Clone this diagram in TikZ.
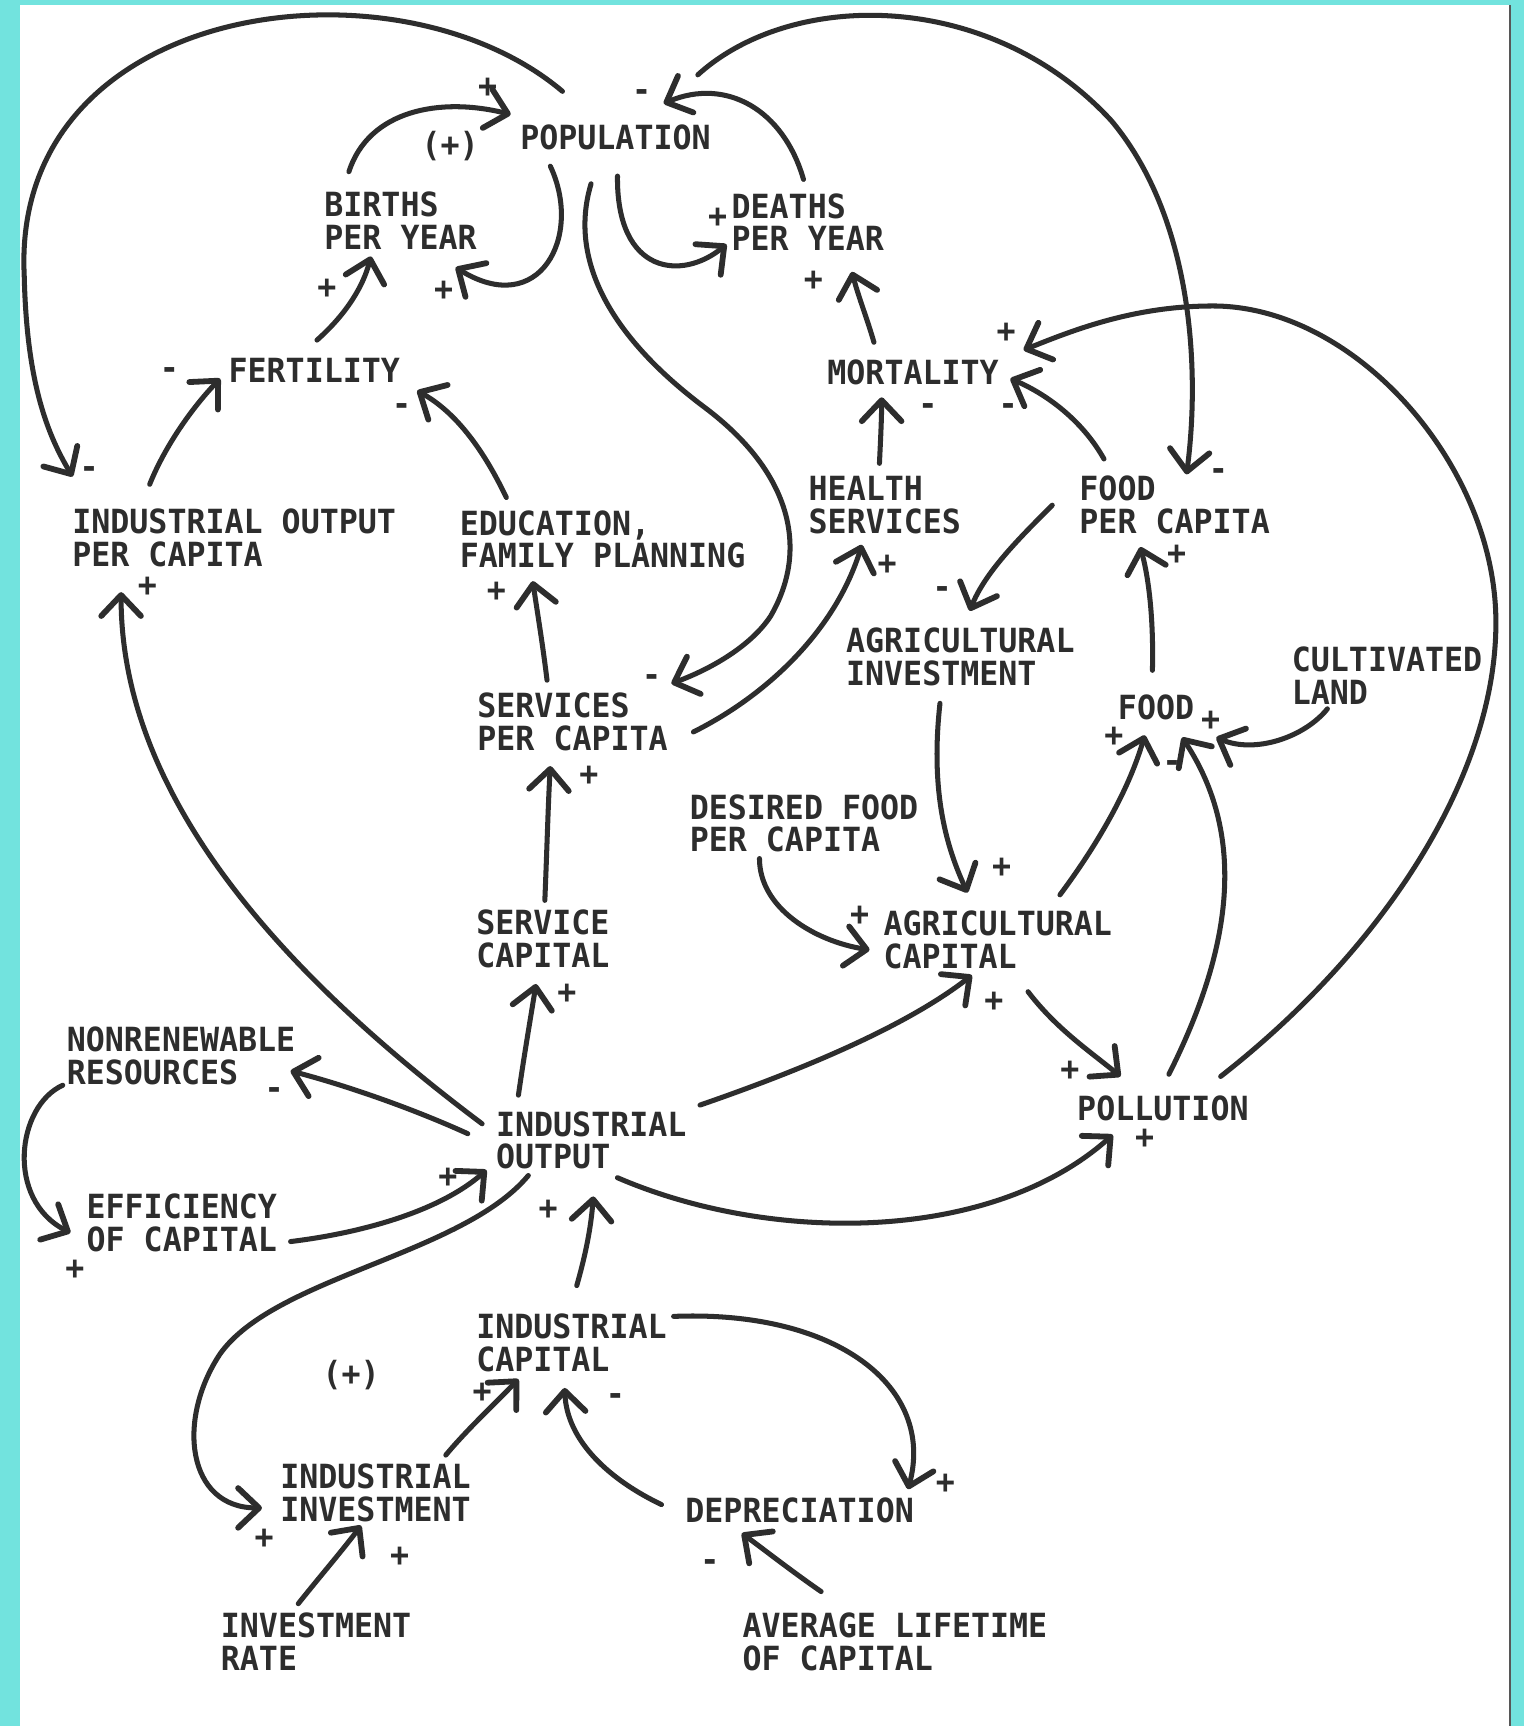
\documentclass[tikz,border=0pt]{standalone}
\usepackage{fontspec}
\newfontfamily\lblfont{DejaVu Sans Mono}[FakeStretch=0.95]
\usetikzlibrary{arrows.meta}
\definecolor{framecol}{RGB}{114,227,222}
\definecolor{ink}{RGB}{45,45,45}
\begin{document}
\begin{tikzpicture}[x=0.01cm,y=-0.01cm,
  lbl/.style={font=\lblfont\bfseries\fontsize{8.6}{8.5}\selectfont, text=ink, inner sep=0pt, anchor=north west, align=left},
  sgn/.style={font=\lblfont\bfseries\fontsize{8.6}{8.5}\selectfont, text=ink, inner sep=0pt},
  msgn/.style={sgn, yshift=-1pt},
  arr/.style={draw=ink, line width=1.3pt, line cap=round,
    -{Straight Barb[length=1.9mm,width=3.6mm,line width=1.5pt,round]}}]
% frame
\fill[framecol] (0,0) rectangle (1385,1568);
\fill[white] (18,5) rectangle (1372,1568);
\draw[ink!80, line width=0.6pt] (1372,5) -- (1372,1568);
\useasboundingbox (0,0) rectangle (1385,1568);

% nodes
\node[lbl] (pop) at (472,113) {POPULATION};
\node[lbl] (births) at (294,174) {BIRTHS\\PER YEAR};
\node[lbl] (deaths) at (664,175) {DEATHS\\PER YEAR};
\node[lbl] (fert) at (207,325) {FERTILITY};
\node[lbl] (mort) at (751,326) {MORTALITY};
\node[lbl] (iopc) at (65,462) {INDUSTRIAL OUTPUT\\PER CAPITA};
\node[lbl] (edu) at (417,463) {EDUCATION,\\FAMILY PLANNING};
\node[lbl] (health) at (734,432) {HEALTH\\SERVICES};
\node[lbl] (fpc) at (980,432) {FOOD\\PER CAPITA};
\node[lbl] (agi) at (768,570) {AGRICULTURAL\\INVESTMENT};
\node[lbl] (cland) at (1173,587) {CULTIVATED\\LAND};
\node[lbl] (food) at (1015,631) {FOOD};
\node[lbl] (spc) at (433,629) {SERVICES\\PER CAPITA};
\node[lbl] (dfpc) at (626,721) {DESIRED FOOD\\PER CAPITA};
\node[lbl] (scap) at (432,826) {SERVICE\\CAPITAL};
\node[lbl] (agc) at (802,827) {AGRICULTURAL\\CAPITAL};
\node[lbl] (nrr) at (60,932) {NONRENEWABLE\\RESOURCES};
\node[lbl] (io) at (450,1009) {INDUSTRIAL\\OUTPUT};
\node[lbl] (poll) at (978,995) {POLLUTION};
\node[lbl] (eff) at (78,1084) {EFFICIENCY\\OF CAPITAL};
\node[lbl] (ic) at (432,1193) {INDUSTRIAL\\CAPITAL};
\node[lbl] (ii) at (254,1329) {INDUSTRIAL\\INVESTMENT};
\node[lbl] (dep) at (622,1360) {DEPRECIATION};
\node[lbl] (ir) at (200,1465) {INVESTMENT\\RATE};
\node[lbl] (alc) at (674,1465) {AVERAGE LIFETIME\\OF CAPITAL};
\node[sgn] (loopa) at (409,133) {(+)};
\node[sgn] (loopb) at (319,1249) {(+)};

% connectors
\draw[arr] ([shift={(23,-18)}]births.north west) .. controls (335,100) and (400,88) .. ([shift={(-8,-9)}]pop.north west);
\draw[arr] ([shift={(28,38)}]pop.north west) .. controls (530,215) and (490,290) .. ([shift={(120,69)}]births.north west);
\draw[arr] ([shift={(89,47)}]pop.north west) .. controls (560,250) and (620,255) .. ([shift={(-4,47)}]deaths.north west);
\draw[arr] ([shift={(66,-12)}]deaths.north west) .. controls (712,100) and (660,70) .. ([shift={(131,-19)}]pop.north west);
\draw[arr] ([shift={(39,-30)}]pop.north west) .. controls (360,-45) and (10,0) .. (22,250) .. controls (24,340) and (40,390) .. ([shift={(1,-29)}]iopc.north west);
\draw[arr] ([shift={(71,-22)}]iopc.north west) .. controls (150,405) and (175,370) .. ([shift={(-7,19)}]fert.north west);
\draw[arr] ([shift={(43,-11)}]edu.north west) .. controls (440,410) and (415,375) .. ([shift={(172,30)}]fert.north west);
\draw[arr] ([shift={(81,-16)}]fert.north west) .. controls (315,285) and (330,260) .. ([shift={(43,59)}]births.north west);
\draw[arr] ([shift={(43,-15)}]mort.north west) .. controls (788,290) and (780,270) .. ([shift={(110,72)}]deaths.north west);
\draw[arr] ([shift={(65,-11)}]health.north west) .. controls (800,400) and (801,380) .. ([shift={(50,35)}]mort.north west);
\draw[arr] ([shift={(23,-15)}]fpc.north west) .. controls (985,385) and (955,360) .. ([shift={(167,18)}]mort.north west);
\draw[arr] ([shift={(162,-45)}]pop.north west) .. controls (720,-10) and (900,-10) .. (1010,110) .. controls (1085,200) and (1090,340) .. ([shift={(98,-1)}]fpc.north west);
\draw[arr] ([shift={(131,-17)}]poll.north west) .. controls (1260,860) and (1362,700) .. (1359,560) .. controls (1356,420) and (1230,278) .. (1102,278) .. controls (1030,278) and (975,300) .. ([shift={(179,-8)}]mort.north west);
\draw[arr] ([shift={(-24,27)}]fpc.north west) .. controls (925,490) and (895,520) .. ([shift={(113,-15)}]agi.north west);
\draw[arr] ([shift={(197,36)}]spc.north west) .. controls (700,630) and (760,570) .. ([shift={(49,63)}]health.north west);
\draw[arr] ([shift={(65,54)}]pop.north west) .. controls (515,240) and (560,310) .. (640,370) .. controls (720,430) and (735,500) .. (700,560) .. controls (680,590) and (640,610) .. ([shift={(177,-8)}]spc.north west);
\draw[arr] ([shift={(64,-11)}]spc.north west) .. controls (493,585) and (488,555) .. ([shift={(67,65)}]edu.north west);
\draw[arr] ([shift={(63,-8)}]scap.north west) .. controls (497,770) and (498,730) .. ([shift={(67,67)}]spc.north west);
\draw[arr] ([shift={(21,-14)}]io.north west) .. controls (476,960) and (482,925) .. ([shift={(55,68)}]scap.north west);
\draw[arr] ([shift={(-12,12)}]io.north west) .. controls (250,880) and (110,720) .. ([shift={(45,76)}]iopc.north west);
\draw[arr] ([shift={(-25,21)}]io.north west) .. controls (370,1005) and (310,985) .. ([shift={(204,41)}]nrr.north west);
\draw[arr] ([shift={(-3,54)}]nrr.north west) .. controls (15,1005) and (5,1090) .. ([shift={(-14,36)}]eff.north west);
\draw[arr] ([shift={(186,44)}]eff.north west) .. controls (330,1120) and (400,1100) .. ([shift={(-8,54)}]io.north west);
\draw[arr] ([shift={(30,59)}]io.north west) .. controls (420,1140) and (250,1160) .. (200,1230) .. controls (160,1290) and (170,1370) .. ([shift={(-16,41)}]ii.north west);
\draw[arr] ([shift={(92,-25)}]ic.north west) .. controls (532,1140) and (537,1115) .. ([shift={(89,78)}]io.north west);
\draw[arr] ([shift={(111,61)}]io.north west) .. controls (700,1130) and (900,1130) .. ([shift={(33,36)}]poll.north west);
\draw[arr] ([shift={(186,-5)}]io.north west) .. controls (720,975) and (820,935) .. ([shift={(81,59)}]agc.north west);
\draw[arr] ([shift={(86,69)}]agi.north west) .. controls (845,720) and (860,770) .. ([shift={(77,-16)}]agc.north west);
\draw[arr] ([shift={(64,59)}]dfpc.north west) .. controls (690,825) and (740,855) .. ([shift={(-12,36)}]agc.north west);
\draw[arr] ([shift={(161,-14)}]agc.north west) .. controls (995,770) and (1025,720) .. ([shift={(25,37)}]food.north west);
\draw[arr] ([shift={(84,-19)}]poll.north west) .. controls (1110,880) and (1140,770) .. ([shift={(59,39)}]food.north west);
\draw[arr] ([shift={(33,57)}]cland.north west) .. controls (1185,670) and (1140,685) .. ([shift={(90,39)}]food.north west);
\draw[arr] ([shift={(32,-22)}]food.north west) .. controls (1048,570) and (1045,530) .. ([shift={(56,65)}]fpc.north west);
\draw[arr] ([shift={(132,74)}]agc.north west) .. controls (960,935) and (990,955) .. ([shift={(40,-17)}]poll.north west);
\draw[arr] ([shift={(151,-7)}]ii.north west) .. controls (425,1298) and (450,1275) .. ([shift={(39,60)}]ic.north west);
\draw[arr] ([shift={(-21,7)}]dep.north west) .. controls (555,1345) and (515,1310) .. ([shift={(81,68)}]ic.north west);
\draw[arr] ([shift={(180,3)}]ic.north west) .. controls (760,1190) and (850,1260) .. ([shift={(203,-7)}]dep.north west);
\draw[arr] ([shift={(71,-8)}]ir.north west) .. controls (290,1433) and (310,1410) .. ([shift={(74,57)}]ii.north west);
\draw[arr] ([shift={(72,-19)}]alc.north west) .. controls (720,1428) and (697,1410) .. ([shift={(52,33)}]dep.north west);

% polarity signs
\node[sgn] (g1) at (443,80) {+};
\node[msgn] (g2) at (583,83) {-};
\node[sgn] (g3) at (403,264) {+};
\node[sgn] (g4) at (652,198) {+};
\node[sgn] (g5) at (297,262) {+};
\node[sgn] (g6) at (739,255) {+};
\node[msgn] (g7) at (154,336) {-};
\node[msgn] (g8) at (365,369) {-};
\node[sgn] (g9) at (914,302) {+};
\node[msgn] (g10) at (843,369) {-};
\node[msgn] (g11) at (916,369) {-};
\node[msgn] (g12) at (81,426) {-};
\node[msgn] (g13) at (1107,428) {-};
\node[sgn] (g14) at (134,533) {+};
\node[sgn] (g15) at (451,538) {+};
\node[sgn] (g16) at (806,513) {+};
\node[sgn] (g17) at (1069,504) {+};
\node[msgn] (g18) at (856,535) {-};
\node[msgn] (g19) at (592,615) {-};
\node[sgn] (g20) at (535,705) {+};
\node[sgn] (g21) at (1012,669) {+};
\node[sgn] (g22) at (1100,655) {+};
\node[msgn] (g23) at (1065,693) {-};
\node[sgn] (g24) at (910,788) {+};
\node[sgn] (g25) at (781,832) {+};
\node[sgn] (g26) at (515,903) {+};
\node[sgn] (g27) at (903,910) {+};
\node[sgn] (g28) at (972,973) {+};
\node[msgn] (g29) at (249,990) {-};
\node[sgn] (g30) at (1040,1035) {+};
\node[sgn] (g31) at (407,1070) {+};
\node[sgn] (g32) at (498,1099) {+};
\node[sgn] (g33) at (68,1154) {+};
\node[sgn] (g34) at (438,1265) {+};
\node[msgn] (g35) at (559,1268) {-};
\node[sgn] (g36) at (859,1348) {+};
\node[sgn] (g37) at (240,1398) {+};
\node[sgn] (g38) at (363,1414) {+};
\node[msgn] (g39) at (645,1419) {-};
\end{tikzpicture}
\end{document}
